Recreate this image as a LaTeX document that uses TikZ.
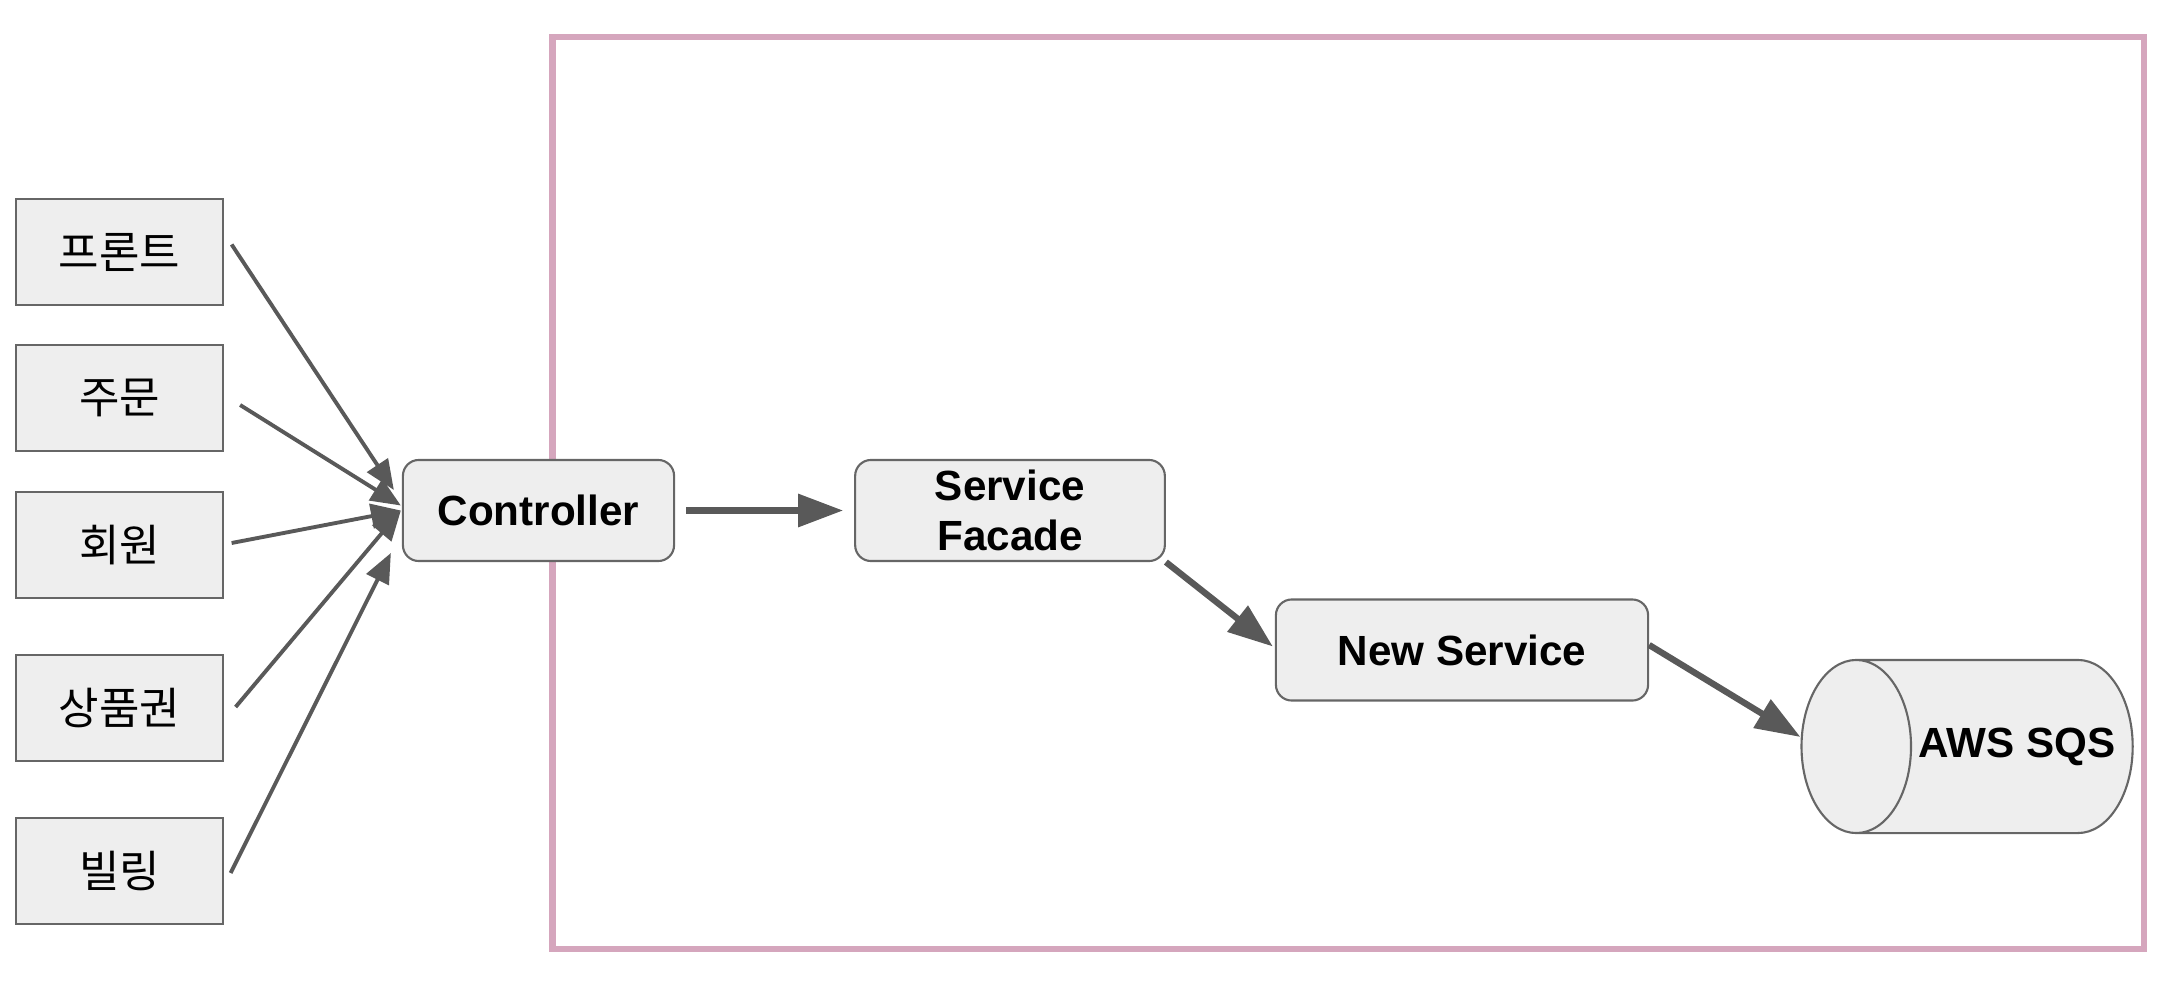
\documentclass[tikz,border=0pt]{standalone}
\usepackage{fontspec}
\setmainfont{Liberation Sans}
\newfontfamily\krfont{Noto Sans CJK KR}
\usetikzlibrary{arrows.meta,shapes.geometric}
\definecolor{boxfill}{HTML}{EEEEEE}
\definecolor{boxline}{HTML}{666666}
\definecolor{arrline}{HTML}{595959}
\definecolor{frameline}{HTML}{D5A6BD}

\begin{document}
\begin{tikzpicture}[x=0.01cm,y=-0.01cm,
	client/.style={draw=boxline,fill=boxfill,line width=0.6pt,minimum width=2.06cm,minimum height=1.06cm,inner sep=0pt,font=\krfont\fontsize{12.5}{14}\selectfont},
	element/.style={draw=boxline,fill=boxfill,line width=0.6pt,rounded corners=4.5pt,minimum height=1.01cm,inner sep=0pt,align=center,font=\bfseries\fontsize{12}{14.2}\selectfont},
	queue/.style={cylinder,shape border rotate=180,aspect=2.9,draw=boxline,fill=boxfill,line width=0.6pt,minimum width=1.73cm,minimum height=3.31cm,inner sep=0pt,font=\bfseries\fontsize{12}{14.2}\selectfont},
	callarrow/.style={draw=arrline,line width=1.1pt,-{Triangle[length=8.5pt,width=7pt]}},
	flowarrow/.style={draw=arrline,line width=1.8pt,-{Triangle[length=12.8pt,width=9.1pt]}}]
	\useasboundingbox (0,0) rectangle (2166,1000);
	
	% service boundary
	\draw[frameline,line width=1.8pt] (552.6,37.3) rectangle (2144,949);
	
	\node[client] (front) at (119.5,252) {프론트};
	\node[client] (order) at (119.5,398) {주문};
	\node[client] (member) at (119.5,545) {회원};
	\node[client] (voucher) at (119.5,708) {상품권};
	\node[client] (billing) at (119.5,871) {빌링};
	
	\node[element,minimum width=2.71cm] (ctrl) at (538.5,510.5) {Controller};
	\node[element,minimum width=3.095cm] (facade) at (1010,510.5) {Service\\Facade};
	\node[element,minimum width=3.72cm] (newsvc) at (1462,650) {New Service};
	\node[queue] (sqs) at (1995,746.5) {\makebox[0pt]{\hspace*{12.6pt}AWS SQS}};
	
	% callers
	\draw[callarrow] ([shift={(8,-7.5)}]front.east) -- ([shift={(-8,-20.5)}]ctrl.west);
	\draw[callarrow] ([shift={(16.5,7)}]order.east) -- ([shift={(-1,-5)}]ctrl.west);
	\draw[callarrow] ([shift={(8,-2)}]member.east) -- ([shift={(-1,0)}]ctrl.west);
	\draw[callarrow] ([shift={(12,-1)}]voucher.east) -- ([shift={(-1,0)}]ctrl.west);
	\draw[callarrow] ([shift={(7,2)}]billing.east) -- ([shift={(-11,42.5)}]ctrl.west);
	
	\draw[flowarrow] ([shift={(11,0)}]ctrl.east) -- ([shift={(-11,0)}]facade.west);
	\draw[flowarrow] (facade.south east) -- ([shift={(-2,-3.5)}]newsvc.west);
	\draw[flowarrow] ([shift={(0,-5)}]newsvc.east) -- ([shift={(0,-9.5)}]sqs.west);
	
\end{tikzpicture}
\end{document}
